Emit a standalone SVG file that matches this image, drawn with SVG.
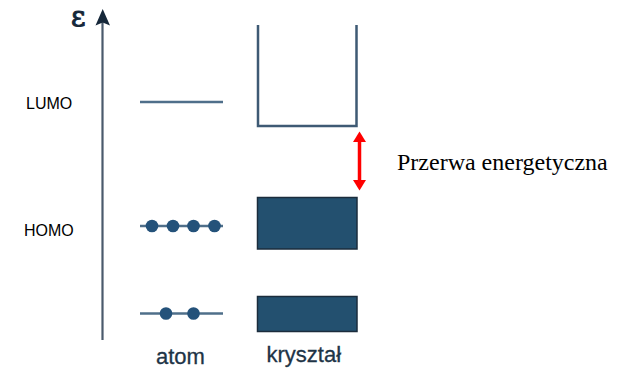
<svg xmlns="http://www.w3.org/2000/svg" width="621" height="373" viewBox="0 0 621 373">
  <style>
    .lvl { stroke: #4f6f8a; stroke-width: 2.5; fill: none; }
    .dot { fill: #24527a; }
    .band { fill: #23506f; stroke: #1b2c3c; stroke-width: 1.5; }
    .well { stroke: #3e5a74; stroke-width: 2.5; fill: none; }
    .side { font-family: "Liberation Sans", Arial, sans-serif; font-size: 16px; fill: #000; }
    .cap { font-family: "Liberation Sans", Arial, sans-serif; font-size: 22px; fill: #1e3446; stroke: #1e3446; stroke-width: 0.3; }
    .gap { font-family: "Liberation Serif", "Times New Roman", serif; font-size: 24px; fill: #000; }
    .red { fill: #ff0000; }
  </style>

  <rect width="621" height="373" fill="#fff"/>

  <g id="connectors">
    <!-- energy axis with its arrowhead -->
    <line x1="102.5" y1="340" x2="102.5" y2="20" stroke="#4a5a6c" stroke-width="2.2"/>
    <path d="M102.7 9 L110 25.5 L102.7 22.5 L95.5 25.5 Z" fill="#16283a"/>
    <!-- band gap arrow -->
    <line x1="359.5" y1="180" x2="359.5" y2="142" stroke="#ff0000" stroke-width="3.5"/>
    <path class="red" d="M359.5 131.5 L366 142 L353 142 Z"/>
    <path class="red" d="M359.5 190.5 L366 180 L353 180 Z"/>
  </g>

  <g id="epsilon">
    <text x="71" y="26" font-family="DejaVu Serif, Liberation Serif, serif" font-size="28" fill="#16283a" stroke="#16283a" stroke-width="1">ε</text>
  </g>

  <g id="lumo-label"><text class="side" x="26" y="108.5">LUMO</text></g>
  <g id="homo-label"><text class="side" x="24" y="236">HOMO</text></g>

  <g id="atom-lumo">
    <line class="lvl" x1="140" y1="102" x2="223" y2="102"/>
  </g>

  <g id="atom-homo">
    <line class="lvl" x1="140" y1="226" x2="223" y2="226"/>
    <circle class="dot" cx="152" cy="226" r="6.3"/>
    <circle class="dot" cx="173" cy="226" r="6.3"/>
    <circle class="dot" cx="193.5" cy="226" r="6.3"/>
    <circle class="dot" cx="214.5" cy="226" r="6.3"/>
  </g>

  <g id="atom-low">
    <line class="lvl" x1="140" y1="313.5" x2="223" y2="313.5"/>
    <circle class="dot" cx="166" cy="313.5" r="6.3"/>
    <circle class="dot" cx="193.5" cy="313.5" r="6.3"/>
  </g>

  <g id="conduction-band">
    <path class="well" d="M258 25 L258 126 L356.5 126 L356.5 25"/>
  </g>

  <g id="valence-band">
    <rect class="band" x="257.5" y="197.5" width="99.5" height="51.5"/>
  </g>

  <g id="low-band">
    <rect class="band" x="257.5" y="296.5" width="99.5" height="35"/>
  </g>

  <g id="gap-label"><text class="gap" x="397" y="170">Przerwa energetyczna</text></g>
  <g id="atom-label"><text class="cap" x="156" y="364">atom</text></g>
  <g id="crystal-label"><text class="cap" x="266.5" y="362">kryształ</text></g>
</svg>
